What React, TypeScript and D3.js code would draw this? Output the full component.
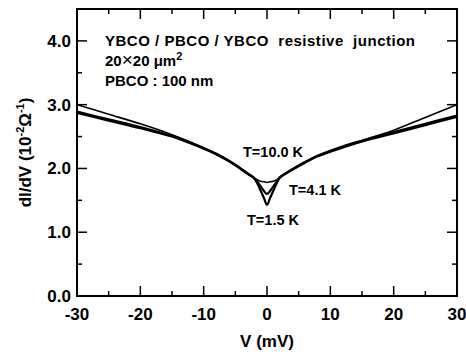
import React from "react";
import * as d3 from "d3";

const voltages = [-30, -25, -20, -15, -12, -8, -6, -4, -3, -2, -1.5, -1, -0.5, 0, 0.5, 1, 1.5, 2, 3, 4, 6, 8, 12, 16, 20, 25, 30];
const g10K = [3.0, 2.85, 2.7, 2.53, 2.41, 2.23, 2.12, 1.99, 1.92, 1.85, 1.82, 1.8, 1.79, 1.78, 1.79, 1.8, 1.82, 1.86, 1.93, 1.99, 2.1, 2.2, 2.35, 2.47, 2.6, 2.8, 3.0];
const g4K = [2.89, 2.77, 2.65, 2.51, 2.4, 2.23, 2.12, 1.99, 1.92, 1.85, 1.79, 1.72, 1.65, 1.6, 1.65, 1.72, 1.79, 1.86, 1.93, 1.99, 2.1, 2.2, 2.34, 2.46, 2.57, 2.7, 2.83];
const g15K = [2.87, 2.75, 2.63, 2.5, 2.39, 2.22, 2.11, 1.98, 1.91, 1.84, 1.76, 1.65, 1.54, 1.43, 1.54, 1.65, 1.76, 1.85, 1.92, 1.98, 2.09, 2.19, 2.33, 2.45, 2.55, 2.68, 2.81];

const xMajor = [-30, -20, -10, 0, 10, 20, 30];
const xMinor = [-25, -15, -5, 5, 15, 25];
const yMajor = [0, 1, 2, 3, 4];
const yMinor = [0.5, 1.5, 2.5, 3.5, 4.5];

const W = 466, H = 354;
const L = 77, R = 457, T = 9, B = 296;
const FONT = "'Liberation Sans', Arial, Helvetica, sans-serif";

export default function App() {
  const x = d3.scaleLinear().domain([-30, 30]).range([L, R]);
  const y = d3.scaleLinear().domain([0, 4.5]).range([B, T]);
  const line = d3
    .line<number>()
    .x((_, i) => x(voltages[i]))
    .y((d) => y(d))
    .curve(d3.curveCatmullRom.alpha(0.5));

  return (
    <svg width={W} height={H} style={{ position: "absolute", left: 0, top: 0, background: "#fff" }} fontFamily={FONT}>
      <defs>
        <clipPath id="clip">
          <rect x={L} y={T} width={R - L} height={B - T} />
        </clipPath>
      </defs>
      <g clipPath="url(#clip)" fill="none" stroke="#000">
        <path d={line(g10K) || ""} strokeWidth={1.6} />
        <path d={line(g4K) || ""} strokeWidth={2.2} />
        <path d={line(g15K) || ""} strokeWidth={2.2} />
      </g>
      <rect x={L} y={T} width={R - L} height={B - T} fill="none" stroke="#000" strokeWidth={2} />
      <g stroke="#000" strokeWidth={1.5}>
        {xMajor.map((v) => (
          <g key={"xm" + v}>
            <line x1={x(v)} x2={x(v)} y1={B} y2={B - 10} />
            <line x1={x(v)} x2={x(v)} y1={T} y2={T + 10} />
          </g>
        ))}
        {xMinor.map((v) => (
          <g key={"xn" + v}>
            <line x1={x(v)} x2={x(v)} y1={B} y2={B - 5} />
            <line x1={x(v)} x2={x(v)} y1={T} y2={T + 5} />
          </g>
        ))}
        {yMajor.map((v) => (
          <g key={"ym" + v}>
            <line x1={L} x2={L + 10} y1={y(v)} y2={y(v)} />
            <line x1={R} x2={R - 10} y1={y(v)} y2={y(v)} />
          </g>
        ))}
        {yMinor.map((v) => (
          <g key={"yn" + v}>
            <line x1={L} x2={L + 5} y1={y(v)} y2={y(v)} />
            <line x1={R} x2={R - 5} y1={y(v)} y2={y(v)} />
          </g>
        ))}
      </g>
      <g fontSize={17} fontWeight="bold" fill="#000">
        {xMajor.map((v) => (
          <text key={"xl" + v} x={x(v)} y={320} textAnchor="middle">
            {v === 0 ? "0" : v < 0 ? "-" + Math.abs(v) : String(v)}
          </text>
        ))}
        {yMajor.map((v) => (
          <text key={"yl" + v} x={71} y={y(v) + 6} textAnchor="end">
            {v.toFixed(1)}
          </text>
        ))}
      </g>
      <text x={x(0)} y={347} textAnchor="middle" fontSize={17} fontWeight="bold">
        V (mV)
      </text>
      <text transform={`translate(31,${(T + B) / 2}) rotate(-90)`} textAnchor="middle" fontSize={17} fontWeight="bold">
        dI/dV (10<tspan fontSize={11} dy={-7}>-2</tspan>
        <tspan dy={7}>Ω</tspan>
        <tspan fontSize={11} dy={-7}>-1</tspan>
        <tspan dy={7}>)</tspan>
      </text>
      <g fontSize={15} fontWeight="bold">
        <text x={105} y={46} style={{ whiteSpace: "pre" }} textLength={310} lengthAdjust="spacing">
          YBCO / PBCO / YBCO  resistive  junction
        </text>
        <text x={105} y={66}>
          20<tspan fontWeight="normal" fontSize={19}>×</tspan>20 μm<tspan fontSize={11} dy={-6}>2</tspan>
        </text>
        <text x={105} y={86}>PBCO : 100 nm</text>
      </g>
      <g fontSize={14.5} fontWeight="bold">
        <text x={243} y={157}>T=10.0 K</text>
        <text x={289} y={195}>T=4.1 K</text>
        <text x={247} y={225}>T=1.5 K</text>
      </g>
    </svg>
  );
}
